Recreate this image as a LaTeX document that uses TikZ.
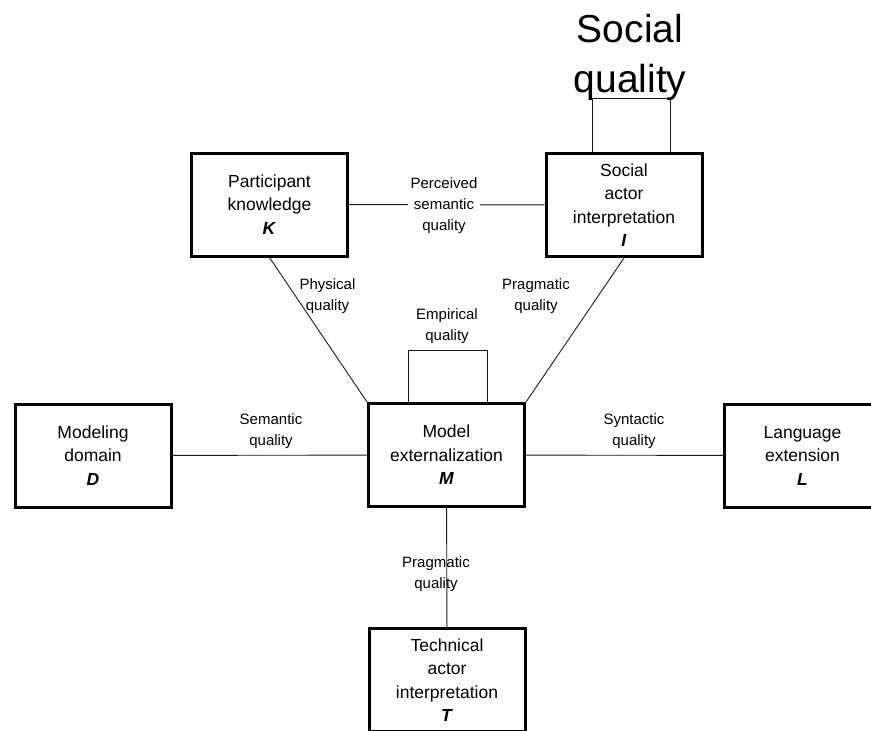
\documentclass[tikz,border=0pt]{standalone}
\usepackage{fontspec}
\setmainfont{Liberation Sans}
\usetikzlibrary{positioning}

\begin{document}
\begin{tikzpicture}[x=1pt,y=-1pt,
    box/.style={draw,line width=3pt,minimum width=156pt,minimum height=103pt,
      align=center,font=\fontsize{17.5}{23.5}\selectfont},
    lbl/.style={align=center,inner sep=3pt,font=\fontsize{15}{21}\selectfont},
    link/.style={line width=0.9pt,black!90}]
  \useasboundingbox (0,0) rectangle (871,731);
  \clip (0,0) rectangle (871,731);
  % the six sets
  \node[box] (K) at (269.5,204.5) {Participant\\knowledge\\\textbf{\textit{K}}};
  \node[box] (I) at (624,205) {Social\\actor\\interpretation\\\textbf{\textit{I}}};
  \node[box] (M) at (446.5,455) {Model\\externalization\\\textbf{\textit{M}}};
  \node[box] (D) at (93,455.5) {Modeling\\domain\\\textbf{\textit{D}}};
  \node[box] (L) at (802.5,455.5) {Language\\extension\\\textbf{\textit{L}}};
  \node[box] (T) at (447,680) {Technical\\actor\\interpretation\\\textbf{\textit{T}}};
  % quality relations
  \draw[link] (K) -- (I);
  \draw[link] (K.south) -- (M.north west);
  \draw[link] (I.south) -- (M.north east);
  \draw[link] (D) -- (M);
  \draw[link] (M) -- (L);
  \draw[link] (M) -- (T);
  \draw[link] ([xshift=-38.5pt]M.north) -- ++(0,-52) -| ([xshift=40.5pt]M.north);
  \draw[link] ([xshift=-32pt]I.north) -- ++(0,-53.5) -| ([xshift=46pt]I.north);
  % labels
  \node[lbl,fill=white] (psem) at (444,206) {Perceived\\semantic\\quality};
  \foreach \n/\x/\y/\t in {phys/327.5/296/{Physical\\quality},
      pragI/536/296/{Pragmatic\\quality},
      emp/447/326/{Empirical\\quality},
      sem/271/431/{Semantic\\quality},
      syn/634/431/{Syntactic\\quality},
      pragT/436/574.5/{Pragmatic\\quality}}{
    \node[lbl] (\n) at (\x,\y) {\t};
  }
  \node[align=center,font=\fontsize{39}{50}\selectfont] (soc) at (630,57) {Social\\quality};
\end{tikzpicture}
\end{document}
